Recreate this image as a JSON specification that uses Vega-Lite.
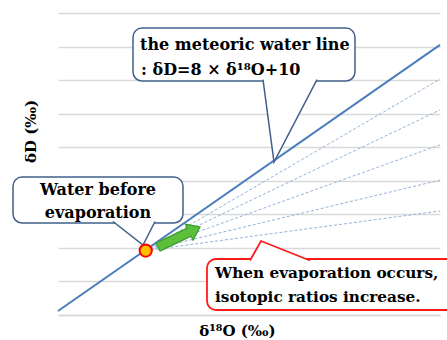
{
  "$schema": "https://vega.github.io/schema/vega-lite/v6.json",
  "width": 382,
  "height": 302,
  "autosize": {"type": "none"},
  "padding": {"left": 58, "top": 13, "right": 7, "bottom": 25},
  "background": "white",
  "config": {"view": {"stroke": null}},
  "datasets": {
    "mwl": [{"x": 0, "y": 1.2}, {"x": 114, "y": 80.5}],
    "evap": [
      {"line": 1, "x": 26.17, "y": 19.2}, {"line": 1, "x": 114, "y": 70.3},
      {"line": 2, "x": 26.17, "y": 19.2}, {"line": 2, "x": 114, "y": 61.1},
      {"line": 3, "x": 26.17, "y": 19.2}, {"line": 3, "x": 114, "y": 50.7},
      {"line": 4, "x": 26.17, "y": 19.2}, {"line": 4, "x": 114, "y": 40.2},
      {"line": 5, "x": 26.17, "y": 19.2}, {"line": 5, "x": 114, "y": 31.0}
    ],
    "water": [{"x": 26.17, "y": 19.2}],
    "arrow": [
      {"i": 1, "x": 30.41, "y": 19.04},
      {"i": 2, "x": 39.72, "y": 23.45},
      {"i": 3, "x": 40.32, "y": 22.26},
      {"i": 4, "x": 42.38, "y": 26.22},
      {"i": 5, "x": 37.99, "y": 27.09},
      {"i": 6, "x": 38.59, "y": 25.89},
      {"i": 7, "x": 29.27, "y": 21.48},
      {"i": 8, "x": 30.41, "y": 19.04}
    ],
    "boxes": [
      {"id": "mwl", "x": 22.38, "x2": 88.63, "y": 85.52, "y2": 69.73},
      {"id": "before", "x": -13.43, "x2": 37.30, "y": 41.12, "y2": 27.41},
      {"id": "evap", "x": 44.46, "x2": 119.96, "y": 16.69, "y2": 1.49}
    ],
    "tails": [
      {"id": "mwl", "i": 1, "x": 61.18, "y": 70.17},
      {"id": "mwl", "i": 2, "x": 64.46, "y": 45.59},
      {"id": "mwl", "i": 3, "x": 77.29, "y": 70.17},
      {"id": "before", "i": 1, "x": 16.41, "y": 27.86},
      {"id": "before", "i": 2, "x": 25.37, "y": 20.86},
      {"id": "before", "i": 3, "x": 28.95, "y": 27.86},
      {"id": "evap", "i": 1, "x": 57.30, "y": 16.24},
      {"id": "evap", "i": 2, "x": 60.58, "y": 22.05},
      {"id": "evap", "i": 3, "x": 75.20, "y": 16.24}
    ],
    "labels": [
      {"id": "mwl", "text": "the meteoric water line", "x": 24.47, "y": 80.45},
      {"id": "mwl", "text": ": δD=8 × δ¹⁸O+10", "x": 24.77, "y": 73.0},
      {"id": "before", "text": "Water before", "x": 11.94, "y": 37.25},
      {"id": "before", "text": "evaporation", "x": 11.94, "y": 30.39},
      {"id": "evap", "text": "When evaporation occurs,", "x": 46.85, "y": 12.51},
      {"id": "evap", "text": "isotopic ratios increase.", "x": 46.85, "y": 5.36}
    ]
  },
  "encoding": {
    "x": {"field": "x", "type": "quantitative", "scale": {"domain": [0, 114], "nice": false, "zero": false},
      "axis": {"title": "δ¹⁸O (‰)", "labels": false, "ticks": false, "grid": false,
        "domainColor": "#d9d9d9", "domainWidth": 1.5,
        "titleFont": "DejaVu Serif", "titleFontWeight": "bold", "titleFontSize": 15, "titleColor": "black",
        "titleX": 179, "titleY": 15, "titleBaseline": "middle", "titleAlign": "center"}},
    "y": {"field": "y", "type": "quantitative", "scale": {"domain": [0, 90], "nice": false, "zero": false},
      "axis": {"title": "δD (‰)", "labels": false, "ticks": false, "domain": false,
        "values": [0, 10, 20, 30, 40, 50, 60, 70, 80, 90],
        "gridColor": "#d9d9d9", "gridWidth": 1.5, "gridOpacity": 1,
        "titleFont": "DejaVu Serif", "titleFontWeight": "bold", "titleFontSize": 15, "titleColor": "black",
        "titleX": -28, "titleY": 118, "titleBaseline": "middle", "titleAlign": "center", "titleAngle": -90}}
  },
  "layer": [
    {"data": {"name": "evap"}, "mark": {"type": "line", "stroke": "#95b3d7", "strokeWidth": 1, "strokeDash": [3, 2], "clip": true},
      "encoding": {"detail": {"field": "line"}}},
    {"data": {"name": "mwl"}, "mark": {"type": "line", "stroke": "#4a7ebb", "strokeWidth": 2}},
    {"data": {"name": "boxes"}, "transform": [{"filter": "datum.id != 'evap'"}],
      "mark": {"type": "rect", "fill": "white", "stroke": "#41618a", "strokeWidth": 1.5, "cornerRadius": 9},
      "encoding": {"x2": {"field": "x2"}, "y2": {"field": "y2"}}},
    {"data": {"name": "boxes"}, "transform": [{"filter": "datum.id == 'evap'"}],
      "mark": {"type": "rect", "fill": "white", "stroke": "#ff1a1a", "strokeWidth": 1.8, "cornerRadius": 9},
      "encoding": {"x2": {"field": "x2"}, "y2": {"field": "y2"}}},
    {"data": {"name": "tails"}, "transform": [{"filter": "datum.id == 'mwl'"}],
      "mark": {"type": "line", "fill": "white", "stroke": "#41618a", "strokeWidth": 1.5, "strokeJoin": "miter"},
      "encoding": {"order": {"field": "i"}}},
    {"data": {"name": "tails"}, "transform": [{"filter": "datum.id == 'before'"}],
      "mark": {"type": "line", "fill": "white", "stroke": "#41618a", "strokeWidth": 1.5, "strokeJoin": "miter"},
      "encoding": {"order": {"field": "i"}}},
    {"data": {"name": "tails"}, "transform": [{"filter": "datum.id == 'evap'"}],
      "mark": {"type": "line", "fill": "white", "stroke": "#ff1a1a", "strokeWidth": 1.8, "strokeJoin": "miter"},
      "encoding": {"order": {"field": "i"}}},
    {"data": {"name": "labels"}, "transform": [{"filter": "datum.id == 'mwl'"}],
      "mark": {"type": "text", "align": "left", "baseline": "middle", "font": "DejaVu Serif", "fontWeight": "bold", "fontSize": 16, "color": "black"},
      "encoding": {"text": {"field": "text"}}},
    {"data": {"name": "labels"}, "transform": [{"filter": "datum.id == 'evap'"}],
      "mark": {"type": "text", "align": "left", "baseline": "middle", "font": "DejaVu Serif", "fontWeight": "bold", "fontSize": 15.3, "color": "black"},
      "encoding": {"text": {"field": "text"}}},
    {"data": {"name": "labels"}, "transform": [{"filter": "datum.id == 'before'"}],
      "mark": {"type": "text", "align": "center", "baseline": "middle", "font": "DejaVu Serif", "fontWeight": "bold", "fontSize": 16, "color": "black"},
      "encoding": {"text": {"field": "text"}}},
    {"data": {"name": "arrow"}, "mark": {"type": "line", "fill": "#5cbf3a", "stroke": "#3a9a2e", "strokeWidth": 1.2, "strokeJoin": "miter"},
      "encoding": {"order": {"field": "i"}}},
    {"data": {"name": "water"}, "mark": {"type": "point", "shape": "circle", "filled": true, "fill": "#ffc000", "stroke": "#ff0000", "strokeWidth": 2, "size": 150, "opacity": 1}}
  ]
}
